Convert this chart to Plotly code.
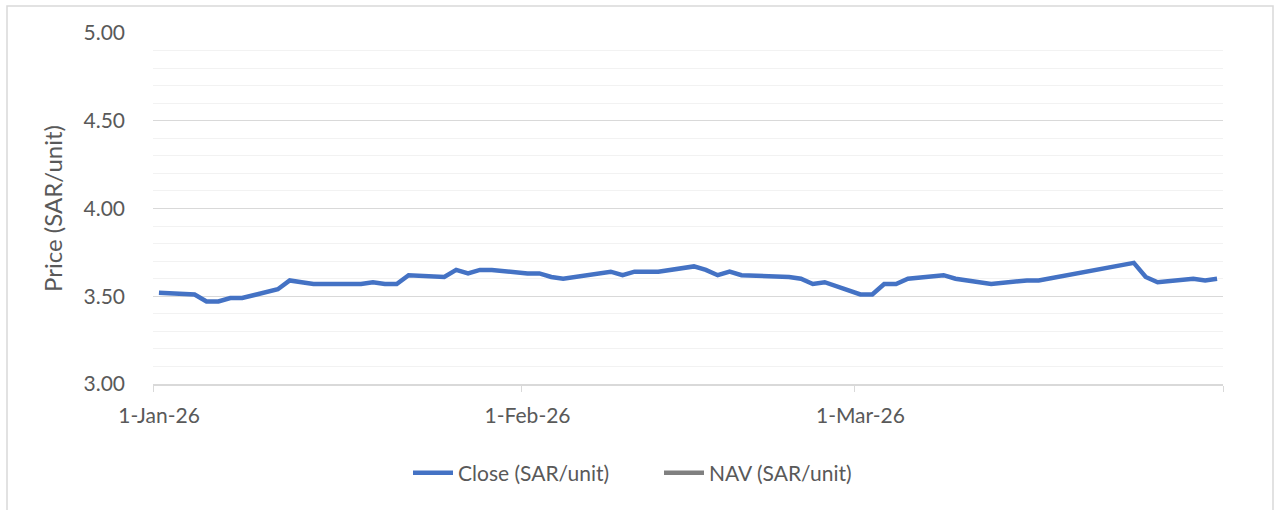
import pandas as pd
import plotly.graph_objects as go

dates = [
    "2026-01-01", "2026-01-04", "2026-01-05", "2026-01-06", "2026-01-07", "2026-01-08",
    "2026-01-11", "2026-01-12", "2026-01-13", "2026-01-14", "2026-01-15",
    "2026-01-18", "2026-01-19", "2026-01-20", "2026-01-21", "2026-01-22",
    "2026-01-25", "2026-01-26", "2026-01-27", "2026-01-28", "2026-01-29",
    "2026-02-01", "2026-02-02", "2026-02-03", "2026-02-04", "2026-02-05",
    "2026-02-08", "2026-02-09", "2026-02-10", "2026-02-11", "2026-02-12",
    "2026-02-15", "2026-02-16", "2026-02-17", "2026-02-18", "2026-02-19",
    "2026-02-23", "2026-02-24", "2026-02-25", "2026-02-26",
    "2026-03-01", "2026-03-02", "2026-03-03", "2026-03-04", "2026-03-05",
    "2026-03-08", "2026-03-09", "2026-03-10", "2026-03-11", "2026-03-12",
    "2026-03-15", "2026-03-16",
    "2026-03-24", "2026-03-25", "2026-03-26",
    "2026-03-29", "2026-03-30", "2026-03-31",
]
close = [
    3.52, 3.51, 3.47, 3.47, 3.49, 3.49,
    3.54, 3.59, 3.58, 3.57, 3.57,
    3.57, 3.58, 3.57, 3.57, 3.62,
    3.61, 3.65, 3.63, 3.65, 3.65,
    3.63, 3.63, 3.61, 3.60, 3.61,
    3.64, 3.62, 3.64, 3.64, 3.64,
    3.67, 3.65, 3.62, 3.64, 3.62,
    3.61, 3.60, 3.57, 3.58,
    3.51, 3.51, 3.57, 3.57, 3.60,
    3.62, 3.60, 3.59, 3.58, 3.57,
    3.59, 3.59,
    3.69, 3.61, 3.58,
    3.60, 3.59, 3.60,
]
nav = [None] * len(dates)

tick_dates = ["2026-01-01", "2026-02-01", "2026-03-01", "2026-04-01"]
tick_labels = ["1-Jan-26", "1-Feb-26", "1-Mar-26", ""]
y_ticks = [3.0, 3.5, 4.0, 4.5, 5.0]
y_labels = ["3.00", "3.50", "4.00", "4.50", "5.00"]

# points sit in the middle of each day slot (Excel date axis, between tick marks)
x_pts = pd.to_datetime(dates) + pd.Timedelta(hours=12)

FONT = "Lato"
TXT = "#595959"
FS = 21

fig = go.Figure()
fig.add_trace(go.Scatter(x=x_pts, y=close, mode="lines", name="Close (SAR/unit)",
                         line=dict(color="#4472C4", width=4.5)))
fig.add_trace(go.Scatter(x=x_pts, y=nav, mode="lines", name="NAV (SAR/unit)",
                         line=dict(color="#808080", width=4.5)))

L, R, T, B = 153, 56, 33, 126
W, H = 1279, 510
pw, ph = W - L - R, H - T - B

fig.update_layout(
    width=W, height=H,
    margin=dict(l=L, r=R, t=T, b=B),
    paper_bgcolor="white", plot_bgcolor="white",
    font=dict(family=FONT, size=FS, color=TXT),
    showlegend=True,
    legend=dict(orientation="h", x=(408 - L) / pw, xanchor="left",
                y=(H - B - 473) / ph, yanchor="middle",
                font=dict(size=FS, color=TXT), itemwidth=40,
                entrywidth=196, entrywidthmode="pixels",
                bgcolor="rgba(0,0,0,0)"),
    xaxis=dict(
        type="date",
        range=["2026-01-01", "2026-04-01"],
        tickvals=tick_dates, ticktext=tick_labels,
        ticks="outside", ticklen=6, tickcolor="#d9d9d9", tickwidth=1,
        showline=True, linecolor="#d9d9d9", linewidth=1.5,
        showgrid=False, zeroline=False,
        ticklabelshift=6, ticklabelstandoff=6,
        tickfont=dict(size=FS, color=TXT),
    ),
    yaxis=dict(
        range=[3.0, 5.0],
        tickvals=y_ticks, ticktext=y_labels,
        showgrid=True, gridcolor="#d9d9d9", gridwidth=1,
        minor=dict(dtick=0.1, showgrid=True, gridcolor="#f2f2f2", gridwidth=1),
        zeroline=False, showline=False, ticks="",
        ticklabelstandoff=27,
        tickfont=dict(size=FS, color=TXT),
        title=dict(text="Price (SAR/unit)", font=dict(size=24, color=TXT), standoff=14),
    ),
    shapes=[dict(type="rect", xref="paper", yref="paper",
                 x0=(7 - L) / pw, x1=(1273 - L) / pw,
                 y0=(H - B - 515) / ph, y1=(H - B - 6) / ph,
                 line=dict(color="#d9d9d9", width=1.5), fillcolor="rgba(0,0,0,0)",
                 layer="below")],
)

fig.write_html("out.html", config={"displayModeBar": False},
               post_script="document.body.style.margin='0';")
